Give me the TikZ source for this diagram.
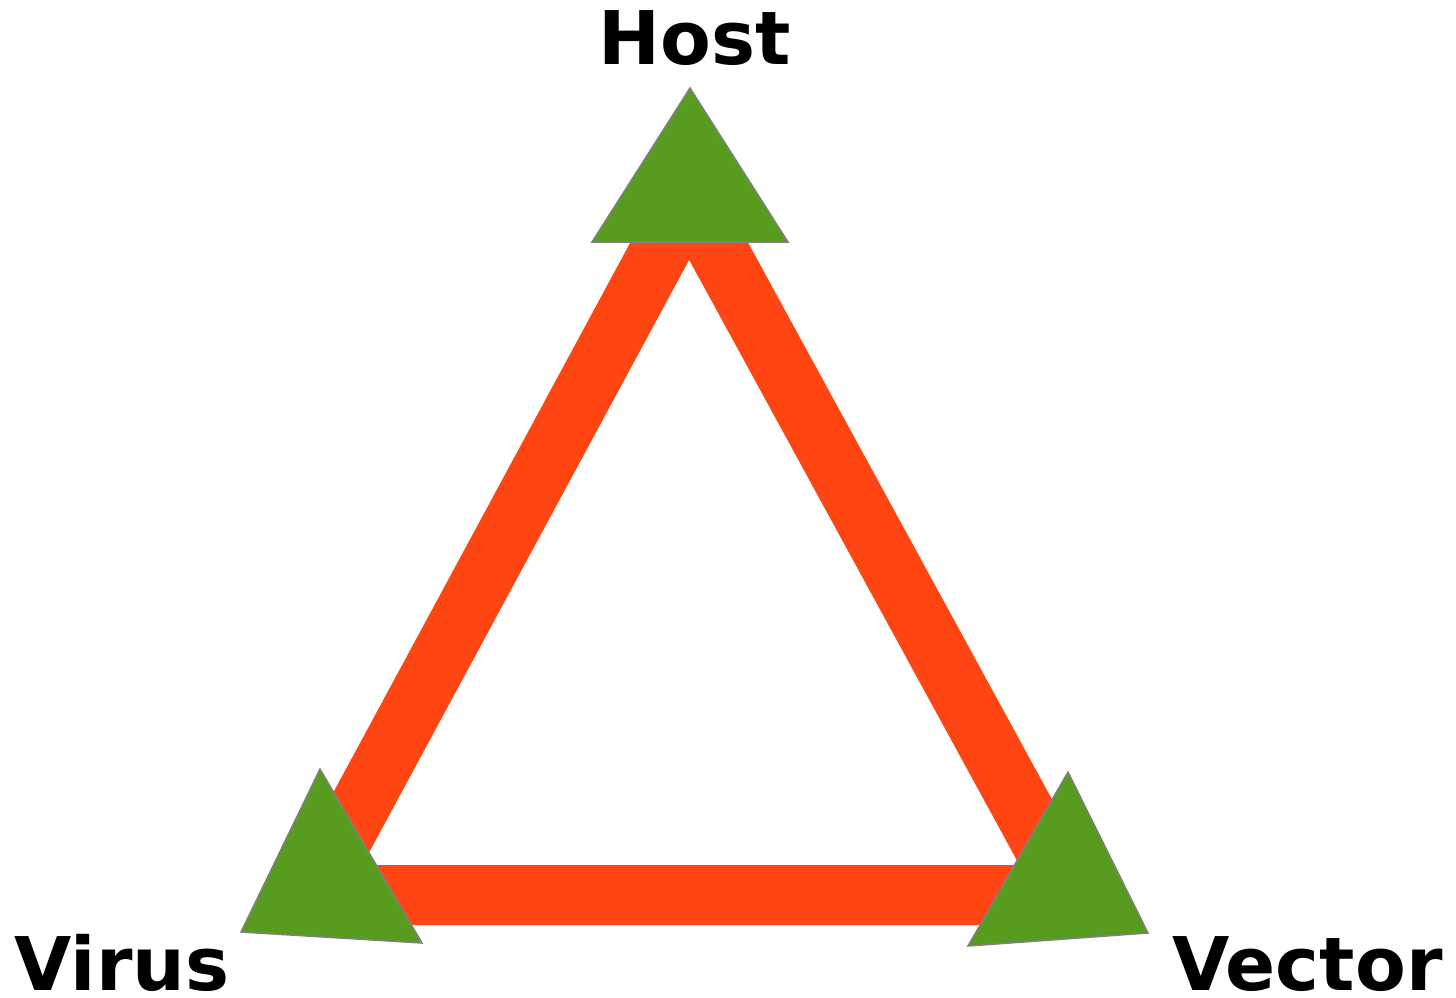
\documentclass[tikz,border=0pt]{standalone}
\usepackage{fontspec}
\setmainfont{DejaVu Sans}
\definecolor{bandred}{RGB}{255,69,18}
\definecolor{leafgreen}{RGB}{87,156,30}
\definecolor{edgegray}{RGB}{128,128,128}
\begin{document}
\begin{tikzpicture}[x=1pt,y=-1pt,
  band/.style={draw=bandred,line width=60pt,line join=miter},
  marker/.style={fill=leafgreen,draw=edgegray,line width=1.5pt,line join=miter},
  label/.style={font=\fontsize{74}{78}\selectfont\bfseries,inner sep=0pt,anchor=base,text depth=0pt}]
\useasboundingbox (0,0) rectangle (1456,998);
% red band triangle
\coordinate (cH) at (689,197);
\coordinate (cV) at (312,895);
\coordinate (cR) at (1070,895);
\draw[band] (cH) -- (cV) -- (cR) -- cycle;
% green markers
\draw[marker] (690,88) -- (592,242) -- (788,242) -- cycle;
\draw[marker] (320,769) -- (241,932) -- (422,943) -- cycle;
\draw[marker] (1068,772) -- (968,946) -- (1148,933) -- cycle;
% labels
\node[label] (host) at (694.5,65) {Host};
\node[label] (virus) at (122,990) {Virus};
\node[label] (vector) at (1307.5,990) {Vector};
\end{tikzpicture}
\end{document}
